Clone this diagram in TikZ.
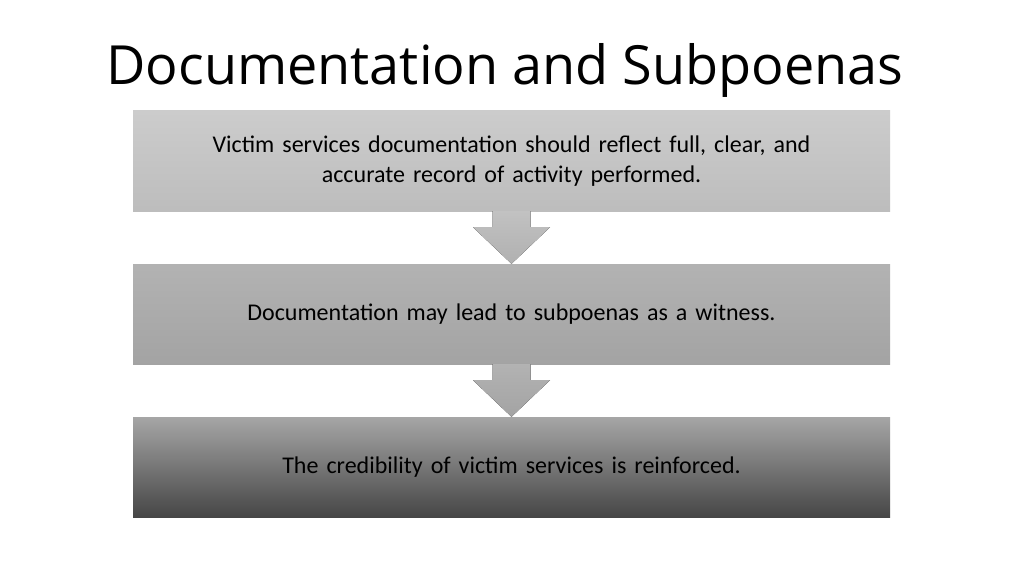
\documentclass[tikz,border=0pt]{standalone}
\usepackage{fontspec}
\setmainfont{Carlito}
\newfontfamily\titlefont{Open Sans}
\usetikzlibrary{calc}
\begin{document}
\begin{tikzpicture}[x=1pt,y=-1pt,
  box/.style={minimum width=757pt,minimum height=100pt,inner sep=0pt,align=center,text width=730pt,font=\fontsize{24}{30}\selectfont,text=black},
  arr/.style={top color=#1!92!white,bottom color=#1,draw=none}]
\useasboundingbox (0,0) rectangle (1024,575);
\fill[white] (0,0) rectangle (1024,575);
\node[font=\titlefont\fontsize{54}{60}\selectfont] (title) at (505,70) {Documentation and Subpoenas};
\node[box,top color=gray!40,bottom color=gray!52] (b1) at (511.5,161) {Victim services documentation should reflect full, clear, and\\accurate record of activity performed.};
\node[box,top color=gray!60,bottom color=gray!72] (b2) at (511.5,314) {Documentation may lead to subpoenas as a witness.};
\node[box,top color=gray!70,bottom color=gray!100!white!55!black] (b3) at (511.5,467) {The credibility of victim services is reinforced.};
\fill[top color=gray!48,bottom color=gray!62] ($(b1.south)+(-19,0)$) -- ($(b1.south)+(19,0)$) -- ($(b1.south)+(19,16)$) -- ($(b1.south)+(38.5,16)$) -- (b2.north) -- ($(b1.south)+(-38.5,16)$) -- ($(b1.south)+(-19,16)$) -- cycle;
\fill[top color=gray!60,bottom color=gray!72] ($(b2.south)+(-19,0)$) -- ($(b2.south)+(19,0)$) -- ($(b2.south)+(19,16)$) -- ($(b2.south)+(38.5,16)$) -- (b3.north) -- ($(b2.south)+(-38.5,16)$) -- ($(b2.south)+(-19,16)$) -- cycle;
\end{tikzpicture}
\end{document}
